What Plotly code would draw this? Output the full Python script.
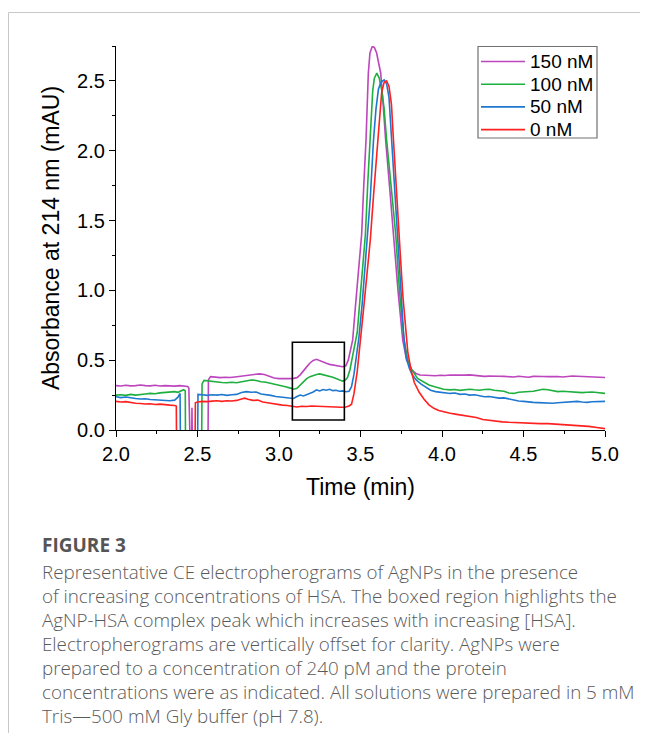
import plotly.graph_objects as go

# ---------------- data ----------------
series_names = ["150 nM", "100 nM", "50 nM", "0 nM"]
series_colors = ["#BD45BD", "#1FAF3F", "#1F78CF", "#FF2020"]

t_150 = [2.00, 2.03, 2.06, 2.09, 2.12, 2.15, 2.18, 2.21, 2.24, 2.27, 2.30, 2.33, 2.36, 2.39, 2.42, 2.44,
         2.447, 2.450, 2.462, 2.466, 2.472, 2.562, 2.567, 2.58, 2.61, 2.64, 2.67, 2.70, 2.73, 2.76, 2.79,
         2.82, 2.85, 2.88, 2.91, 2.94, 2.97, 3.00, 3.03, 3.06, 3.09, 3.11, 3.13, 3.15, 3.17, 3.19, 3.21,
         3.23, 3.25, 3.27, 3.29, 3.31, 3.33, 3.35, 3.37, 3.39, 3.41, 3.425, 3.44, 3.452, 3.47, 3.49,
         3.507, 3.52, 3.534, 3.548, 3.558, 3.572, 3.585, 3.599, 3.612, 3.624, 3.64, 3.654, 3.68, 3.701,
         3.73, 3.759, 3.783, 3.814, 3.84, 3.865, 3.89, 3.93, 3.96, 3.99, 4.02, 4.05, 4.08, 4.11, 4.14,
         4.17, 4.20, 4.23, 4.26, 4.29, 4.32, 4.35, 4.38, 4.41, 4.44, 4.47, 4.50, 4.53, 4.56, 4.59, 4.62,
         4.65, 4.68, 4.71, 4.74, 4.77, 4.80, 4.83, 4.86, 4.89, 4.92, 4.95, 4.98, 5.00]
v_150 = [0.318, 0.315, 0.320, 0.316, 0.318, 0.322, 0.318, 0.316, 0.320, 0.315, 0.318, 0.316, 0.314, 0.318,
         0.315, 0.312, 0.300, -0.5, -0.5, 0.16, -0.5, -0.5, 0.36, 0.382, 0.378, 0.375, 0.378, 0.376, 0.380,
         0.385, 0.390, 0.392, 0.400, 0.402, 0.398, 0.385, 0.372, 0.368, 0.366, 0.368, 0.370, 0.375, 0.395,
         0.420, 0.452, 0.480, 0.498, 0.506, 0.495, 0.484, 0.478, 0.470, 0.465, 0.458, 0.455, 0.453, 0.460,
         0.500, 0.580, 0.645, 0.900, 1.150, 1.400, 1.750, 2.080, 2.555, 2.700, 2.746, 2.740, 2.700, 2.630,
         2.555, 2.316, 2.080, 1.720, 1.400, 1.000, 0.645, 0.500, 0.430, 0.405, 0.394, 0.392, 0.390, 0.388,
         0.392, 0.390, 0.394, 0.392, 0.395, 0.393, 0.395, 0.390, 0.385, 0.384, 0.386, 0.383, 0.385, 0.384,
         0.382, 0.380, 0.385, 0.382, 0.378, 0.384, 0.386, 0.383, 0.382, 0.385, 0.383, 0.380, 0.385, 0.387,
         0.385, 0.383, 0.386, 0.380, 0.382, 0.378, 0.376]

t_100 = [2.00, 2.03, 2.06, 2.09, 2.12, 2.15, 2.18, 2.21, 2.24, 2.27, 2.30, 2.33, 2.36, 2.38, 2.40, 2.415,
         2.425, 2.428, 2.523, 2.528, 2.54, 2.56, 2.59, 2.62, 2.65, 2.68, 2.71, 2.74, 2.77, 2.80, 2.83, 2.86,
         2.89, 2.92, 2.95, 2.98, 3.01, 3.04, 3.07, 3.09, 3.11, 3.13, 3.15, 3.17, 3.19, 3.21, 3.23, 3.25,
         3.27, 3.29, 3.31, 3.33, 3.35, 3.37, 3.39, 3.405, 3.42, 3.435, 3.45, 3.465, 3.48, 3.50, 3.515,
         3.53, 3.545, 3.558, 3.575, 3.585, 3.60, 3.615, 3.63, 3.645, 3.66, 3.69, 3.716, 3.74, 3.767, 3.79,
         3.815, 3.85, 3.885, 3.92, 3.95, 3.98, 4.01, 4.05, 4.08, 4.11, 4.14, 4.17, 4.20, 4.23, 4.26, 4.29,
         4.32, 4.35, 4.38, 4.41, 4.44, 4.47, 4.50, 4.53, 4.56, 4.59, 4.62, 4.65, 4.68, 4.71, 4.74, 4.77,
         4.80, 4.83, 4.86, 4.89, 4.92, 4.95, 4.98, 5.00]
v_100 = [0.250, 0.252, 0.248, 0.255, 0.250, 0.256, 0.258, 0.262, 0.260, 0.266, 0.270, 0.272, 0.275, 0.270,
         0.278, 0.288, 0.280, -0.5, -0.5, 0.330, 0.355, 0.352, 0.345, 0.342, 0.340, 0.338, 0.342, 0.338,
         0.345, 0.355, 0.358, 0.355, 0.345, 0.342, 0.335, 0.325, 0.320, 0.310, 0.300, 0.292, 0.298, 0.320,
         0.345, 0.368, 0.382, 0.392, 0.398, 0.402, 0.396, 0.392, 0.386, 0.378, 0.368, 0.358, 0.350, 0.356,
         0.375, 0.430, 0.530, 0.620, 0.700, 0.980, 1.180, 1.400, 1.780, 2.080, 2.430, 2.520, 2.555, 2.520,
         2.435, 2.300, 2.080, 1.720, 1.400, 0.980, 0.645, 0.500, 0.430, 0.370, 0.345, 0.322, 0.312, 0.300,
         0.292, 0.287, 0.290, 0.284, 0.288, 0.292, 0.288, 0.285, 0.290, 0.292, 0.285, 0.280, 0.278, 0.265,
         0.262, 0.270, 0.272, 0.275, 0.278, 0.285, 0.292, 0.288, 0.280, 0.275, 0.278, 0.275, 0.270, 0.272,
         0.268, 0.270, 0.272, 0.268, 0.262, 0.262]

t_50 = [2.00, 2.03, 2.06, 2.09, 2.12, 2.15, 2.18, 2.21, 2.24, 2.27, 2.30, 2.33, 2.36, 2.38, 2.393, 2.398,
        2.498, 2.503, 2.53, 2.56, 2.59, 2.62, 2.65, 2.68, 2.71, 2.74, 2.77, 2.80, 2.83, 2.86, 2.89, 2.92,
        2.95, 2.98, 3.01, 3.04, 3.07, 3.09, 3.11, 3.13, 3.15, 3.17, 3.19, 3.21, 3.23, 3.25, 3.27, 3.29,
        3.31, 3.33, 3.35, 3.37, 3.39, 3.41, 3.43, 3.445, 3.46, 3.475, 3.49, 3.51, 3.53, 3.545, 3.56, 3.58,
        3.595, 3.61, 3.625, 3.645, 3.66, 3.675, 3.69, 3.71, 3.728, 3.745, 3.765, 3.78, 3.80, 3.815, 3.84,
        3.87, 3.90, 3.93, 3.96, 3.99, 4.02, 4.05, 4.08, 4.11, 4.14, 4.17, 4.20, 4.23, 4.26, 4.29, 4.32,
        4.35, 4.38, 4.41, 4.44, 4.47, 4.50, 4.53, 4.56, 4.59, 4.62, 4.65, 4.68, 4.71, 4.74, 4.77, 4.80,
        4.83, 4.86, 4.89, 4.92, 4.95, 4.98, 5.00]
v_50 = [0.238, 0.232, 0.236, 0.228, 0.225, 0.222, 0.224, 0.218, 0.215, 0.216, 0.212, 0.210, 0.214, 0.235,
        0.262, -0.5, -0.5, 0.255, 0.252, 0.248, 0.252, 0.250, 0.254, 0.248, 0.252, 0.255, 0.268, 0.275,
        0.270, 0.272, 0.258, 0.255, 0.248, 0.240, 0.236, 0.232, 0.228, 0.226, 0.240, 0.250, 0.244, 0.252,
        0.262, 0.272, 0.287, 0.280, 0.290, 0.285, 0.292, 0.282, 0.285, 0.278, 0.280, 0.274, 0.278, 0.310,
        0.400, 0.520, 0.660, 0.900, 1.180, 1.400, 1.660, 2.080, 2.300, 2.440, 2.490, 2.507, 2.480, 2.380,
        2.100, 1.740, 1.400, 1.080, 0.680, 0.520, 0.440, 0.400, 0.360, 0.330, 0.310, 0.285, 0.275, 0.270,
        0.265, 0.262, 0.265, 0.255, 0.258, 0.250, 0.252, 0.245, 0.238, 0.240, 0.235, 0.228, 0.230, 0.222,
        0.215, 0.208, 0.205, 0.200, 0.198, 0.196, 0.194, 0.190, 0.192, 0.195, 0.198, 0.200, 0.204, 0.205,
        0.200, 0.198, 0.202, 0.205, 0.208, 0.205]

t_0 = [2.00, 2.03, 2.06, 2.09, 2.12, 2.15, 2.18, 2.21, 2.24, 2.27, 2.30, 2.33, 2.36, 2.370, 2.374, 2.482,
       2.487, 2.50, 2.53, 2.56, 2.59, 2.62, 2.65, 2.68, 2.71, 2.74, 2.77, 2.79, 2.81, 2.84, 2.87, 2.90,
       2.93, 2.96, 2.99, 3.02, 3.05, 3.08, 3.11, 3.14, 3.17, 3.20, 3.23, 3.26, 3.29, 3.32, 3.35, 3.38,
       3.41, 3.43, 3.445, 3.46, 3.48, 3.50, 3.52, 3.54, 3.56, 3.58, 3.60, 3.615, 3.63, 3.645, 3.66, 3.675,
       3.69, 3.70, 3.715, 3.73, 3.745, 3.76, 3.775, 3.79, 3.81, 3.83, 3.86, 3.89, 3.92, 3.95, 3.98, 4.01,
       4.05, 4.09, 4.13, 4.17, 4.21, 4.25, 4.29, 4.33, 4.37, 4.41, 4.45, 4.50, 4.55, 4.60, 4.65, 4.70,
       4.75, 4.80, 4.85, 4.90, 4.95, 4.99, 5.00]
v_0 = [0.205, 0.200, 0.203, 0.195, 0.192, 0.190, 0.186, 0.188, 0.183, 0.185, 0.180, 0.178, 0.176, 0.172,
       -0.5, -0.5, 0.195, 0.200, 0.205, 0.203, 0.207, 0.210, 0.205, 0.210, 0.208, 0.212, 0.222, 0.228,
       0.220, 0.212, 0.214, 0.200, 0.195, 0.188, 0.182, 0.178, 0.175, 0.172, 0.165, 0.170, 0.168, 0.172,
       0.170, 0.166, 0.165, 0.163, 0.162, 0.163, 0.165, 0.172, 0.185, 0.260, 0.420, 0.630, 0.880, 1.120,
       1.360, 1.680, 2.000, 2.250, 2.420, 2.490, 2.500, 2.460, 2.330, 2.120, 1.800, 1.520, 1.240, 0.960,
       0.740, 0.560, 0.430, 0.340, 0.270, 0.220, 0.180, 0.155, 0.140, 0.130, 0.120, 0.112, 0.104, 0.098,
       0.090, 0.075, 0.068, 0.060, 0.058, 0.055, 0.052, 0.050, 0.048, 0.046, 0.046, 0.043, 0.040, 0.036,
       0.032, 0.026, 0.018, 0.012, 0.010]

series_t = [t_150, t_100, t_50, t_0]
series_v = [v_150, v_100, v_50, v_0]

box_time = [3.082, 3.401]
box_abs = [0.072, 0.628]

x_ticks = [2.0, 2.5, 3.0, 3.5, 4.0, 4.5, 5.0]
y_ticks = [0.0, 0.5, 1.0, 1.5, 2.0, 2.5]

caption_title = "FIGURE 3"
caption_lines = [
    "Representative CE electropherograms of AgNPs in the presence",
    "of increasing concentrations of HSA. The boxed region highlights the",
    "AgNP-HSA complex peak which increases with increasing [HSA].",
    "Electropherograms are vertically offset for clarity. AgNPs were",
    "prepared to a concentration of 240 pM and the protein",
    "concentrations were as indicated. All solutions were prepared in 5 mM",
    "Tris\u2014500 mM Gly buffer (pH 7.8).",
]

# ---------------- layout helpers ----------------
# the page body has an 8 px margin, so the figure starts at (8, 8) on the page
OFF = 8
W, H = 648 - OFF, 733 - OFF
L, R, T, B = 116 - OFF, 605 - OFF, 46 - OFF, 430 - OFF


def px2x(page_px):
    return (page_px - OFF - L) / (R - L)


def py2y(page_py):
    return (B - (page_py - OFF)) / (B - T)


AXFONT = "Liberation Sans, Arial, sans-serif"
CAPFONT = "Open Sans, sans-serif"

fig = go.Figure()
for name, color, tt, vv in zip(series_names, series_colors, series_t, series_v):
    fig.add_trace(go.Scatter(x=tt, y=vv, mode="lines", name=name, showlegend=False,
                             line=dict(color=color, width=1.6)))

fig.add_shape(type="rect", xref="x", yref="y",
              x0=box_time[0], x1=box_time[1], y0=box_abs[0], y1=box_abs[1],
              line=dict(color="black", width=1.6))

# figure frame (thin grey lines at top and left)
fig.add_shape(type="line", xref="paper", yref="paper",
              x0=px2x(8.5), x1=px2x(660), y0=py2y(12.5), y1=py2y(12.5),
              line=dict(color="#C8C8C8", width=1))
fig.add_shape(type="line", xref="paper", yref="paper",
              x0=px2x(8.5), x1=px2x(8.5), y0=py2y(12.5), y1=py2y(745),
              line=dict(color="#C8C8C8", width=1))

annotations = []

# legend box drawn to the reference's compact layout
LEG_L, LEG_R, LEG_T, LEG_B = 478, 597, 46.5, 138
fig.add_shape(type="rect", xref="paper", yref="paper",
              x0=px2x(LEG_L), x1=px2x(LEG_R), y0=py2y(LEG_T), y1=py2y(LEG_B),
              line=dict(color="#707070", width=1.2), fillcolor="white", layer="above")
leg_rows = [61.5, 84.2, 106.9, 129.6]
for name, color, yy in zip(series_names, series_colors, leg_rows):
    fig.add_shape(type="line", xref="paper", yref="paper",
                  x0=px2x(481), x1=px2x(525), y0=py2y(yy), y1=py2y(yy),
                  line=dict(color=color, width=1.6), layer="above")
    annotations.append(dict(text=name, xref="paper", yref="paper", x=px2x(528), y=py2y(yy),
                            xanchor="left", yanchor="middle", showarrow=False,
                            font=dict(family=AXFONT, size=19, color="black")))

annotations.append(dict(text="<b>" + caption_title + "</b>", xref="paper", yref="paper",
                        x=px2x(40), y=py2y(545), xanchor="left", yanchor="middle", showarrow=False,
                        font=dict(family=CAPFONT, size=19, color="#555555")))
for i, line in enumerate(caption_lines):
    annotations.append(dict(text=line, xref="paper", yref="paper",
                            x=px2x(40), y=py2y(572 + 24 * i), xanchor="left", yanchor="middle",
                            showarrow=False,
                            font=dict(family=CAPFONT, size=18.8, color="#5a5a5a", weight=300)))

fig.update_layout(
    width=W, height=H,
    margin=dict(l=L, r=W - R, t=T, b=H - B),
    paper_bgcolor="white", plot_bgcolor="white",
    font=dict(family=AXFONT, size=20, color="black"),
    showlegend=False,
    annotations=annotations,
)

fig.update_xaxes(range=[2.0, 5.0], tickvals=x_ticks, tickformat=".1f",
                 showline=True, linecolor="black", linewidth=1.3, mirror=False,
                 ticks="outside", ticklen=6, tickwidth=1.3, tickcolor="black",
                 showgrid=False, zeroline=False,
                 minor=dict(dtick=0.25, ticks="outside", ticklen=3, tickwidth=1.3,
                            tickcolor="black", showgrid=False),
                 title=dict(text="Time (min)", font=dict(size=23), standoff=14),
                 tickfont=dict(size=20))
fig.update_yaxes(range=[0.0, 2.75], tickvals=y_ticks, tickformat=".1f",
                 showline=True, linecolor="black", linewidth=1.3, mirror=False,
                 ticks="outside", ticklen=6, tickwidth=1.3, tickcolor="black",
                 showgrid=False, zeroline=False,
                 minor=dict(dtick=0.25, ticks="outside", ticklen=3, tickwidth=1.3,
                            tickcolor="black", showgrid=False),
                 title=dict(text="Absorbance at 214 nm (mAU)", font=dict(size=23), standoff=10),
                 tickfont=dict(size=20))

fig.write_html("out.html")
